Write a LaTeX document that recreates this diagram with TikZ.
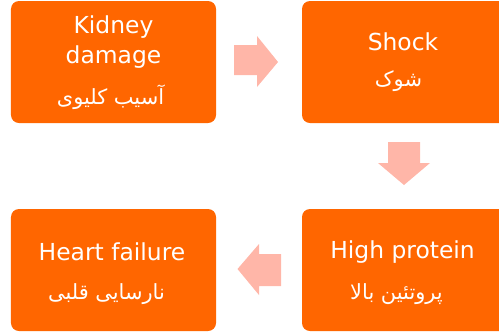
\documentclass[tikz,border=0pt]{standalone}
\usepackage{fontspec}
\setmainfont{DejaVu Sans}
\newfontfamily\arabicfont[Script=Arabic]{DejaVu Sans}
\TeXXeTstate=1
\definecolor{boxorange}{HTML}{FF6600}
\definecolor{arrowpink}{HTML}{FFB6A8}
\begin{document}
\begin{tikzpicture}[x=1bp,y=-1bp,
  procbox/.style={fill=boxorange,draw=none,rounded corners=8bp,minimum width=205bp,minimum height=122bp,inner sep=0pt},
  entext/.style={text=white,font=\fontsize{23.5}{28}\selectfont,inner sep=0pt},
  fatext/.style={text=white,font=\arabicfont\fontsize{21}{24}\selectfont,inner sep=0pt},
  blockarrow/.style={fill=arrowpink,draw=none}]
\useasboundingbox (0,0) rectangle (499,334);
% boxes
\node[procbox] (kidney) at (113.5,62) {};
\node[procbox] (shock) at (404.5,62) {};
\node[procbox] (protein) at (404.5,270) {};
\node[procbox] (heart) at (113.5,270) {};
% texts
\node[entext] (kidneyA) at (113.5,27) {Kidney};
\node[entext] (kidneyB) at (113.5,57) {damage};
\node[fatext] (kidneyC) at (110.5,97) {\beginR آسیب کلیوی\endR};
\node[entext] (shockA) at (403,42) {Shock};
\node[fatext] (shockB) at (398.5,81) {\beginR شوک\endR};
\node[entext] (proteinA) at (402.5,252) {High protein};
\node[fatext] (proteinB) at (396.5,294) {\beginR پروتئین بالا\endR};
\node[entext] (heartA) at (112,252) {Heart failure};
\node[fatext] (heartB) at (106.5,294) {\beginR نارسایی قلبی\endR};
% block arrows
\fill[blockarrow] (234,45) -- (257,45) -- (257,36) -- (278,62) -- (257,87) -- (257,75) -- (234,75) -- cycle;
\fill[blockarrow] (388,142) -- (420,142) -- (420,163) -- (430,163) -- (404,185) -- (378,163) -- (388,163) -- cycle;
\fill[blockarrow] (281,254) -- (259,254) -- (259,244) -- (237.5,269) -- (259,295) -- (259,286) -- (281,286) -- cycle;
\end{tikzpicture}
\end{document}
